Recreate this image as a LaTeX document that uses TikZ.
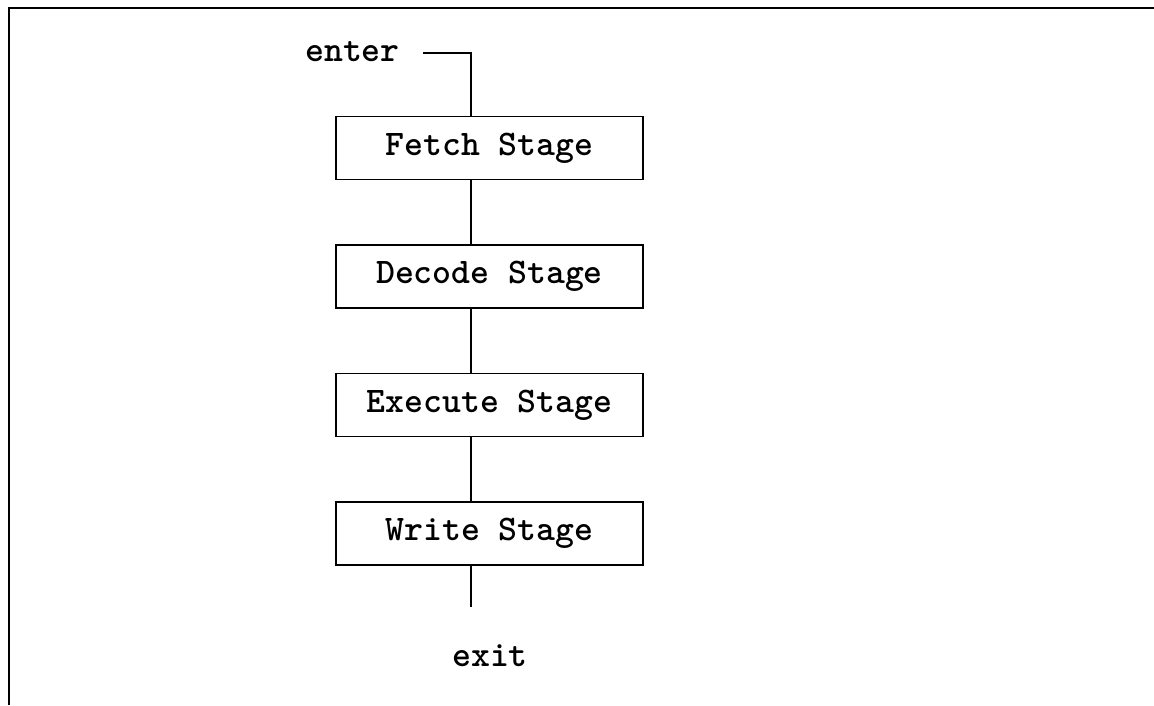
\documentclass[tikz,border=0pt]{standalone}
\usepackage{tikz}
\usetikzlibrary{positioning}
\tikzset{>=latex}

\begin{document}
\begin{tikzpicture}[x=1cm,y=1cm]
  %--------------------------------------------
  % Styles
  %--------------------------------------------
  \tikzset{
    stagebox/.style={draw, line width=1.1pt, minimum width=7.675cm,
      minimum height=1.575cm, inner sep=0pt,
      font=\fontsize{25.6}{30}\selectfont\ttfamily\bfseries},
    wire/.style={line width=1.1pt},
    frameline/.style={line width=1.6pt},
    terminal/.style={inner sep=0pt,
      font=\fontsize{25.6}{30}\selectfont\ttfamily\bfseries}
  }

  %--------------------------------------------
  % Canvas and frame (open at right and bottom)
  %--------------------------------------------
  \useasboundingbox (0,0) rectangle (28.85,17.625);
  \draw[frameline] (0.225,0) -- (0.225,17.425) -- (28.85,17.425);

  %--------------------------------------------
  % Pipeline stages, stacked top to bottom
  %--------------------------------------------
  \node[stagebox] (fetch) at (12.2375,13.925) {Fetch Stage};
  \node[stagebox, below=1.6cm of fetch] (decode) {Decode Stage};
  \node[stagebox, below=1.6cm of decode] (execute) {Execute Stage};
  \node[stagebox, below=1.6cm of execute] (write) {Write Stage};

  %--------------------------------------------
  % Entry and exit
  %--------------------------------------------
  \coordinate (bus) at (11.775,16.3);      % vertical wire runs at this x
  \node[terminal, anchor=base east] (enter) at (10.0,16.075) {enter};
  \coordinate (enterend) at (10.575,16.3);
  \draw[wire] (enterend) -- (bus) -- (bus |- fetch.north);

  % wires between the stages
  \foreach \a/\b in {fetch/decode, decode/execute, execute/write}{
    \draw[wire] (\a.south -| bus) -- (\b.north -| bus);
  }

  \node[terminal, anchor=base] (exit) at (12.25,0.975) {exit};
  \coordinate (exitend) at (11.775,2.45);
  \draw[wire] (write.south -| bus) -- (exitend);
\end{tikzpicture}
\end{document}
